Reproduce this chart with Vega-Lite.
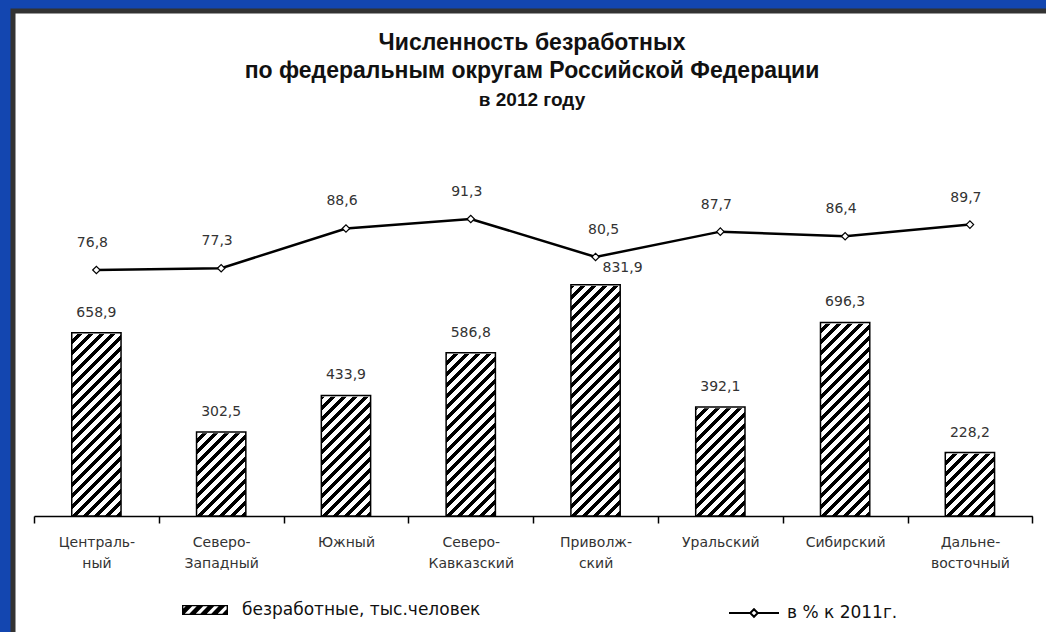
{
  "$schema": "https://vega.github.io/schema/vega-lite/v6.json",
  "width": 1038,
  "height": 626,
  "autosize": {"type": "none"},
  "padding": {"left": 13, "top": 11, "right": -5, "bottom": -5},
  "background": "#1346b0",
  "title": {
    "text": ["Численность безработных", "по федеральным округам Российской Федерации"],
    "subtitle": "в 2012 году",
    "anchor": "middle",
    "frame": "group",
    "orient": "top",
    "offset": -99,
    "font": "Liberation Sans",
    "fontSize": 23,
    "fontWeight": "bold",
    "color": "#111111",
    "lineHeight": 28,
    "subtitleFont": "Liberation Sans",
    "subtitleFontSize": 19,
    "subtitleFontWeight": "bold",
    "subtitleColor": "#111111",
    "subtitlePadding": 8
  },
  "data": {
    "values": [
      {"okrug": "Центральный", "unemployed": 658.9, "pct": 76.8},
      {"okrug": "Северо-Западный", "unemployed": 302.5, "pct": 77.3},
      {"okrug": "Южный", "unemployed": 433.9, "pct": 88.6},
      {"okrug": "Северо-Кавказский", "unemployed": 586.8, "pct": 91.3},
      {"okrug": "Приволжский", "unemployed": 831.9, "pct": 80.5},
      {"okrug": "Уральский", "unemployed": 392.1, "pct": 87.7},
      {"okrug": "Сибирский", "unemployed": 696.3, "pct": 86.4},
      {"okrug": "Дальневосточный", "unemployed": 228.2, "pct": 89.7}
    ]
  },
  "encoding": {
    "x": {
      "field": "okrug",
      "type": "nominal",
      "sort": null,
      "scale": {"paddingInner": 0, "paddingOuter": 0.159, "align": 0.5292},
      "axis": {
        "title": null,
        "orient": "bottom",
        "offset": -121,
        "tickBand": "extent",
        "grid": false,
        "domainColor": "#000000",
        "domainWidth": 1.5,
        "domainDash": [998.3, 3000],
        "domainDashOffset": -21,
        "tickColor": "#000000",
        "tickWidth": 1.5,
        "tickSize": 7,
        "labelAngle": 0,
        "labelFont": "DejaVu Sans",
        "labelFontSize": 14,
        "labelColor": "#333333",
        "labelPadding": 12,
        "labelLineHeight": 21.6,
        "labelExpr": "datum.label == 'Центральный' ? ['Централь-', 'ный'] : datum.label == 'Приволжский' ? ['Приволж-', 'ский'] : datum.label == 'Дальневосточный' ? ['Дальне-', 'восточный'] : split(replace(datum.label, '-', '-~'), '~')"
      }
    }
  },
  "layer": [
    {
      "layer": [
        {
          "mark": {
            "type": "point",
            "shape": "M-1,-0.22H1V0.22H-1Z M-0.94,-0.16V0.16H0.94V-0.16Z M-0.94,-0.06L-0.84,-0.16L-0.56,-0.16L-0.88,0.16L-0.94,0.16Z M-0.682,0.16L-0.362,-0.16L-0.082,-0.16L-0.402,0.16Z M-0.204,0.16L0.116,-0.16L0.396,-0.16L0.076,0.16Z M0.274,0.16L0.594,-0.16L0.874,-0.16L0.554,0.16Z M0.752,0.16L0.94,-0.028L0.94,0.16Z",
            "filled": true,
            "fill": "#000000",
            "strokeWidth": 0,
            "size": 2116,
            "opacity": 1
          },
          "encoding": {
            "y": {"datum": 50, "type": "quantitative", "scale": {"domain": [-435.25, 1816.55], "nice": false, "zero": false}, "axis": null},
            "strokeDash": {
              "datum": "безработные, тыс.человек",
              "type": "nominal",
              "scale": {"range": [[1, 0]]},
              "legend": {
                "title": null,
                "orient": "none",
                "legendX": 169,
                "legendY": 576,
                "padding": 0,
                "symbolType": "M-1,-0.22H1V0.22H-1Z M-0.94,-0.16V0.16H0.94V-0.16Z M-0.94,-0.06L-0.84,-0.16L-0.56,-0.16L-0.88,0.16L-0.94,0.16Z M-0.682,0.16L-0.362,-0.16L-0.082,-0.16L-0.402,0.16Z M-0.204,0.16L0.116,-0.16L0.396,-0.16L0.076,0.16Z M0.274,0.16L0.594,-0.16L0.874,-0.16L0.554,0.16Z M0.752,0.16L0.94,-0.028L0.94,0.16Z",
                "symbolSize": 2116,
                "symbolFillColor": "#000000",
                "symbolStrokeWidth": 0,
                "symbolOpacity": 1,
                "labelFont": "DejaVu Sans",
                "labelFontSize": 17,
                "labelColor": "#111111",
                "labelOffset": 14,
                "labelLimit": 500,
                "labelBaseline": "middle"
              }
            }
          }
        },
        {
          "mark": {
            "type": "bar",
            "width": {"band": 0.395},
            "strokeWidth": 0,
            "fill": {
              "gradient": "linear", "x1": 0, "y1": 0, "x2": 0.8815, "y2": 4.1361,
              "stops": [
                {"offset": 0, "color": "#000"}, {"offset": 0.005, "color": "#000"}, {"offset": 0.005, "color": "#fff"}, {"offset": 0.011, "color": "#fff"},
                {"offset": 0.011, "color": "#000"}, {"offset": 0.016, "color": "#000"}, {"offset": 0.016, "color": "#fff"}, {"offset": 0.022, "color": "#fff"},
                {"offset": 0.022, "color": "#000"}, {"offset": 0.027, "color": "#000"}, {"offset": 0.027, "color": "#fff"}, {"offset": 0.033, "color": "#fff"},
                {"offset": 0.033, "color": "#000"}, {"offset": 0.038, "color": "#000"}, {"offset": 0.038, "color": "#fff"}, {"offset": 0.044, "color": "#fff"},
                {"offset": 0.044, "color": "#000"}, {"offset": 0.049, "color": "#000"}, {"offset": 0.049, "color": "#fff"}, {"offset": 0.055, "color": "#fff"},
                {"offset": 0.055, "color": "#000"}, {"offset": 0.06, "color": "#000"}, {"offset": 0.06, "color": "#fff"}, {"offset": 0.066, "color": "#fff"},
                {"offset": 0.066, "color": "#000"}, {"offset": 0.071, "color": "#000"}, {"offset": 0.071, "color": "#fff"}, {"offset": 0.077, "color": "#fff"},
                {"offset": 0.077, "color": "#000"}, {"offset": 0.082, "color": "#000"}, {"offset": 0.082, "color": "#fff"}, {"offset": 0.088, "color": "#fff"},
                {"offset": 0.088, "color": "#000"}, {"offset": 0.093, "color": "#000"}, {"offset": 0.093, "color": "#fff"}, {"offset": 0.099, "color": "#fff"},
                {"offset": 0.099, "color": "#000"}, {"offset": 0.104, "color": "#000"}, {"offset": 0.104, "color": "#fff"}, {"offset": 0.11, "color": "#fff"},
                {"offset": 0.11, "color": "#000"}, {"offset": 0.115, "color": "#000"}, {"offset": 0.115, "color": "#fff"}, {"offset": 0.121, "color": "#fff"},
                {"offset": 0.121, "color": "#000"}, {"offset": 0.126, "color": "#000"}, {"offset": 0.126, "color": "#fff"}, {"offset": 0.132, "color": "#fff"},
                {"offset": 0.132, "color": "#000"}, {"offset": 0.137, "color": "#000"}, {"offset": 0.137, "color": "#fff"}, {"offset": 0.143, "color": "#fff"},
                {"offset": 0.143, "color": "#000"}, {"offset": 0.148, "color": "#000"}, {"offset": 0.148, "color": "#fff"}, {"offset": 0.154, "color": "#fff"},
                {"offset": 0.154, "color": "#000"}, {"offset": 0.159, "color": "#000"}, {"offset": 0.159, "color": "#fff"}, {"offset": 0.165, "color": "#fff"},
                {"offset": 0.165, "color": "#000"}, {"offset": 0.17, "color": "#000"}, {"offset": 0.17, "color": "#fff"}, {"offset": 0.176, "color": "#fff"},
                {"offset": 0.176, "color": "#000"}, {"offset": 0.181, "color": "#000"}, {"offset": 0.181, "color": "#fff"}, {"offset": 0.187, "color": "#fff"},
                {"offset": 0.187, "color": "#000"}, {"offset": 0.192, "color": "#000"}, {"offset": 0.192, "color": "#fff"}, {"offset": 0.198, "color": "#fff"},
                {"offset": 0.198, "color": "#000"}, {"offset": 0.203, "color": "#000"}, {"offset": 0.203, "color": "#fff"}, {"offset": 0.209, "color": "#fff"},
                {"offset": 0.209, "color": "#000"}, {"offset": 0.214, "color": "#000"}, {"offset": 0.214, "color": "#fff"}, {"offset": 0.22, "color": "#fff"},
                {"offset": 0.22, "color": "#000"}, {"offset": 0.225, "color": "#000"}, {"offset": 0.225, "color": "#fff"}, {"offset": 0.231, "color": "#fff"},
                {"offset": 0.231, "color": "#000"}, {"offset": 0.236, "color": "#000"}, {"offset": 0.236, "color": "#fff"}, {"offset": 0.242, "color": "#fff"},
                {"offset": 0.242, "color": "#000"}, {"offset": 0.247, "color": "#000"}, {"offset": 0.247, "color": "#fff"}, {"offset": 0.253, "color": "#fff"},
                {"offset": 0.253, "color": "#000"}, {"offset": 0.258, "color": "#000"}, {"offset": 0.258, "color": "#fff"}, {"offset": 0.264, "color": "#fff"},
                {"offset": 0.264, "color": "#000"}, {"offset": 0.269, "color": "#000"}, {"offset": 0.269, "color": "#fff"}, {"offset": 0.275, "color": "#fff"},
                {"offset": 0.275, "color": "#000"}, {"offset": 0.28, "color": "#000"}, {"offset": 0.28, "color": "#fff"}, {"offset": 0.286, "color": "#fff"},
                {"offset": 0.286, "color": "#000"}, {"offset": 0.291, "color": "#000"}, {"offset": 0.291, "color": "#fff"}, {"offset": 1, "color": "#fff"}
              ]
            }
          },
          "encoding": {
            "y": {"datum": 831.9, "type": "quantitative", "scale": {"domain": [-435.25, 1816.55], "nice": false, "zero": false}, "axis": null},
            "y2": {"datum": 0}
          }
        },
        {
          "mark": {"type": "bar", "width": {"band": 0.395}, "fill": "#ffffff", "stroke": "#ffffff", "strokeWidth": 2.5},
          "encoding": {
            "y": {"field": "unemployed", "type": "quantitative", "scale": {"domain": [-435.25, 1816.55], "nice": false, "zero": false}, "axis": null},
            "y2": {"datum": 831.9}
          }
        },
        {
          "mark": {"type": "bar", "width": {"band": 0.395}, "filled": false, "stroke": "#000000", "strokeWidth": 1.5},
          "encoding": {
            "y": {"field": "unemployed", "type": "quantitative", "scale": {"domain": [-435.25, 1816.55], "nice": false, "zero": false}, "axis": null},
            "y2": {"datum": 0}
          }
        },
        {
          "mark": {
            "type": "text",
            "baseline": "middle",
            "font": "DejaVu Sans",
            "fontSize": 14,
            "fill": "#333333",
            "dx": {"expr": "datum.okrug === 'Приволжский' ? 27 : 0"},
            "dy": {"expr": "datum.okrug === 'Приволжский' ? -17 : -20"}
          },
          "encoding": {
            "y": {"field": "unemployed", "type": "quantitative", "scale": {"domain": [-435.25, 1816.55], "nice": false, "zero": false}, "axis": null},
            "text": {"field": "unemployed", "type": "quantitative", "format": ".1f"}
          }
        }
      ]
    },
    {
      "layer": [
        {
          "mark": {"type": "line", "strokeWidth": 2.5},
          "encoding": {
            "y": {"field": "pct", "type": "quantitative", "scale": {"domain": [-27.46, 150.38], "nice": false, "zero": false}, "axis": null},
            "stroke": {
              "datum": "в % к 2011г.",
              "type": "nominal",
              "scale": {"range": ["#000000"]},
              "legend": {
                "title": null,
                "orient": "none",
                "legendX": 715,
                "legendY": 576,
                "padding": 0,
                "symbolType": "M-1,0L-0.15,0M0.15,0L1,0M-0.15,0L0,-0.15L0.15,0L0,0.15Z",
                "symbolSize": 2500,
                "symbolFillColor": "#ffffff",
                "symbolStrokeWidth": 2,
                "labelFont": "DejaVu Sans",
                "labelFontSize": 17,
                "labelColor": "#111111",
                "labelOffset": 7,
                "labelLimit": 500,
                "labelBaseline": "middle"
              }
            }
          }
        },
        {
          "mark": {"type": "point", "shape": "diamond", "filled": true, "fill": "#ffffff", "stroke": "#000000", "strokeWidth": 1.2, "size": 55, "opacity": 1},
          "encoding": {
            "y": {"field": "pct", "type": "quantitative", "scale": {"domain": [-27.46, 150.38], "nice": false, "zero": false}, "axis": null}
          }
        },
        {
          "mark": {
            "type": "text",
            "baseline": "middle",
            "font": "DejaVu Sans",
            "fontSize": 14,
            "fill": "#333333",
            "dx": {"expr": "datum.okrug === 'Приволжский' ? 8 : -4"},
            "dy": -27
          },
          "encoding": {
            "y": {"field": "pct", "type": "quantitative", "scale": {"domain": [-27.46, 150.38], "nice": false, "zero": false}, "axis": null},
            "text": {"field": "pct", "type": "quantitative", "format": ".1f"}
          }
        }
      ]
    }
  ],
  "resolve": {"scale": {"y": "independent"}},
  "config": {
    "locale": {"number": {"decimal": ",", "thousands": " ", "grouping": [3], "currency": ["", ""]}},
    "view": {"fill": "#ffffff", "stroke": "#333333", "strokeWidth": 5}
  }
}
